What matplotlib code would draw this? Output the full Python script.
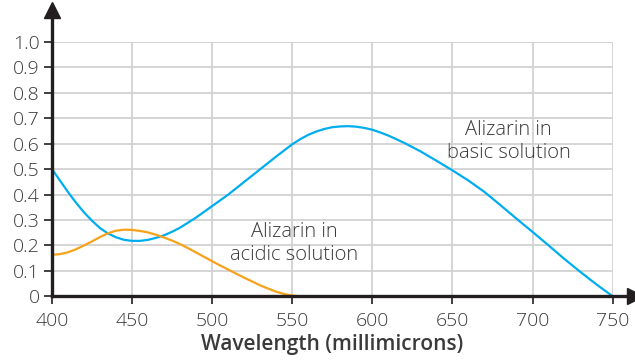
import matplotlib.pyplot as plt

# wavelength (millimicrons) and absorbance
basic_x = [400, 405, 410, 415, 420, 425, 430, 435, 440, 445, 450, 455, 460,
           465, 470, 475, 480, 490, 500, 510, 520, 530, 540, 550, 555, 560,
           565, 570, 575, 580, 585, 590, 595, 600, 605, 610, 620, 630, 640,
           650, 660, 670, 680, 690, 700, 710, 720, 730, 740, 750]
basic_y = [0.50, 0.455, 0.41, 0.368, 0.33, 0.297, 0.268, 0.247, 0.232, 0.222,
           0.218, 0.218, 0.222, 0.23, 0.24, 0.254, 0.27, 0.31, 0.355, 0.40,
           0.45, 0.50, 0.55, 0.598, 0.618, 0.635, 0.648, 0.658, 0.665, 0.668,
           0.669, 0.667, 0.662, 0.655, 0.644, 0.632, 0.603, 0.57, 0.533,
           0.495, 0.455, 0.41, 0.358, 0.305, 0.253, 0.20, 0.146, 0.095,
           0.046, 0.0]

acidic_x = [400, 405, 410, 415, 420, 425, 430, 435, 440, 445, 450, 455, 460,
            465, 470, 475, 480, 485, 490, 495, 500, 505, 510, 515, 520, 525,
            530, 535, 540, 545, 550, 555]
acidic_y = [0.163, 0.166, 0.173, 0.185, 0.200, 0.216, 0.233, 0.248, 0.258,
            0.262, 0.261, 0.257, 0.251, 0.242, 0.231, 0.219, 0.205, 0.189,
            0.172, 0.155, 0.138, 0.121, 0.105, 0.089, 0.073, 0.058, 0.043,
            0.03, 0.018, 0.009, 0.003, 0.0]

x_ticks = [400, 450, 500, 550, 600, 650, 700, 750]
y_ticks = [0, 0.1, 0.2, 0.3, 0.4, 0.5, 0.6, 0.7, 0.8, 0.9, 1.0]
y_labels = ['0', '0.1', '0.2', '0.3', '0.4', '0.5', '0.6', '0.7', '0.8', '0.9', '1.0']

plt.rcParams['font.family'] = ['Open Sans', 'DejaVu Sans']
txt = '#3a3a3a'
axis_col = '#231f20'

fig = plt.figure(figsize=(6.35, 3.6), dpi=100)
ax = fig.add_axes([52 / 635, 1 - 296.3 / 360, 560.7 / 635, 254.3 / 360])

ax.plot(basic_x, basic_y, color='#00aeef', lw=1.6, zorder=3)
ax.plot(acidic_x, acidic_y, color='#f7a21b', lw=1.6, zorder=3)

ax.set_xlim(400, 750)
ax.set_ylim(0, 1.0)
ax.set_xticks(x_ticks)
ax.set_yticks(y_ticks)
ax.set_yticklabels(y_labels)
ax.grid(True, color='#d2d2d2', lw=1.3, zorder=0)
ax.set_axisbelow(True)

for s in ['top', 'right', 'left', 'bottom']:
    ax.spines[s].set_visible(False)
ax.axhline(1.0, color='#d2d2d2', lw=1.3, zorder=0)

# arrowed axes
ax.plot([400, 400], [0, 1.12], color=axis_col, lw=2.4, clip_on=False, zorder=4)
ax.plot([400], [1.125], marker='^', ms=11, color=axis_col, clip_on=False, zorder=4)
ax.plot([400, 760], [0, 0], color=axis_col, lw=2.4, clip_on=False, zorder=4)
ax.plot([764], [0], marker='>', ms=11, color=axis_col, clip_on=False, zorder=4)

ax.tick_params(axis='y', length=6, width=1.2, color=axis_col, pad=3,
               labelsize=14, labelcolor=txt)
ax.tick_params(axis='x', length=6, width=1.2, color=axis_col, pad=5,
               labelsize=14, labelcolor=txt)
for lab in ax.get_xticklabels() + ax.get_yticklabels():
    lab.set_fontweight('light')

ax.set_xlabel('Wavelength (millimicrons)', fontsize=15, fontweight='semibold',
              color=txt, labelpad=3)

ax.text(685, 0.609, 'Alizarin in\nbasic solution', ha='center', va='center',
        fontsize=14.5, color=txt, linespacing=1.2, fontweight='light')
ax.text(551, 0.208, 'Alizarin in\nacidic solution', ha='center', va='center',
        fontsize=14.5, color=txt, linespacing=1.2, fontweight='light')

fig.savefig('out.png', dpi=100)
